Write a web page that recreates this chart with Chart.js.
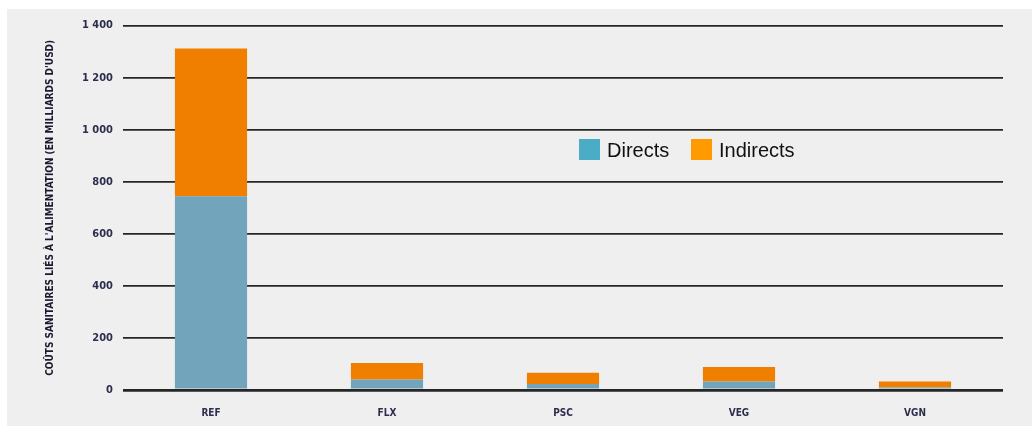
<!DOCTYPE html>
<html>
<head>
<meta charset="utf-8">
<script src="https://cdn.jsdelivr.net/npm/chart.js@4/dist/chart.umd.min.js"></script>
<style>
  html, body { margin: 0; padding: 0; background: #ffffff; }
  #panel { position: absolute; left: 7px; top: 9px; width: 1025px; height: 417px; background: #efefef; }
</style>
</head>
<body>
<div id="panel"><canvas id="chart" width="1025" height="417"></canvas></div>
<script>
// ── data ──
const categories = ['REF', 'FLX', 'PSC', 'VEG', 'VGN'];
const directs    = [744, 40, 23, 33, 10];
const indirects  = [568, 64, 43, 55, 23];
const seriesNames = ['Directs', 'Indirects'];
const yTitle = "COÛTS SANITAIRES LIÉS À L'ALIMENTATION (EN MILLIARDS D'USD)";

const BAR_BLUE    = '#72a5bb';
const BAR_ORANGE  = '#f07f00';
const LEG_BLUE    = '#4bacc6';
const LEG_ORANGE  = '#ff9a00';
const NARROW      = '"DejaVu Sans Condensed", "Liberation Sans Narrow", sans-serif';
const TICK_FONT   = { family: NARROW, size: 11, weight: 'bold' };

// legend drawn inside the plot, like the original
const floatingLegend = {
  id: 'floatingLegend',
  afterDraw(chart) {
    const ctx = chart.ctx;
    const items = [
      { label: seriesNames[0], color: LEG_BLUE,   x: 572 },
      { label: seriesNames[1], color: LEG_ORANGE, x: 684 }
    ];
    ctx.save();
    ctx.font = '20px "Liberation Sans", Arial, sans-serif';
    ctx.textBaseline = 'alphabetic';
    items.forEach(it => {
      ctx.fillStyle = it.color;
      ctx.fillRect(it.x, 130, 21, 21);
      ctx.fillStyle = '#111111';
      ctx.fillText(it.label, it.x + 28, 147.5);
    });
    ctx.restore();
  }
};

new Chart(document.getElementById('chart').getContext('2d'), {
  type: 'bar',
  data: {
    labels: categories,
    datasets: [
      { label: seriesNames[0], data: directs,   backgroundColor: BAR_BLUE },
      { label: seriesNames[1], data: indirects, backgroundColor: BAR_ORANGE }
    ]
  },
  options: {
    responsive: false,
    animation: false,
    layout: { padding: { top: 14, right: 29, left: 0, bottom: 0 } },
    datasets: { bar: { barPercentage: 0.41, categoryPercentage: 1 } },
    plugins: { legend: { display: false }, tooltip: { enabled: false } },
    scales: {
      x: {
        stacked: true,
        grid: { display: false },
        border: { display: false },
        ticks: { color: '#2d2d4d', font: { family: NARROW, size: 10, weight: 'bold' }, padding: 9 },
        afterFit(s) { s.height = 36; }
      },
      y: {
        stacked: true,
        min: 0, max: 1400,
        ticks: {
          stepSize: 200, padding: 10, color: '#2d2d4d', font: TICK_FONT,
          callback: v => String(v).replace(/\B(?=(\d{3})+(?!\d))/g, ' ')
        },
        grid: {
          drawTicks: false,
          color: '#262626',
          lineWidth: c => c.tick && c.tick.value === 0 ? 2.8 : 1.8
        },
        border: { display: false },
        title: {
          display: true, text: yTitle, color: '#1a1a2e',
          font: { family: NARROW, size: 10, weight: 'bold' }, padding: { top: 37, bottom: 0 }
        },
        afterFit(s) { s.width = 116; }
      }
    }
  },
  plugins: [floatingLegend]
});
</script>
</body>
</html>
